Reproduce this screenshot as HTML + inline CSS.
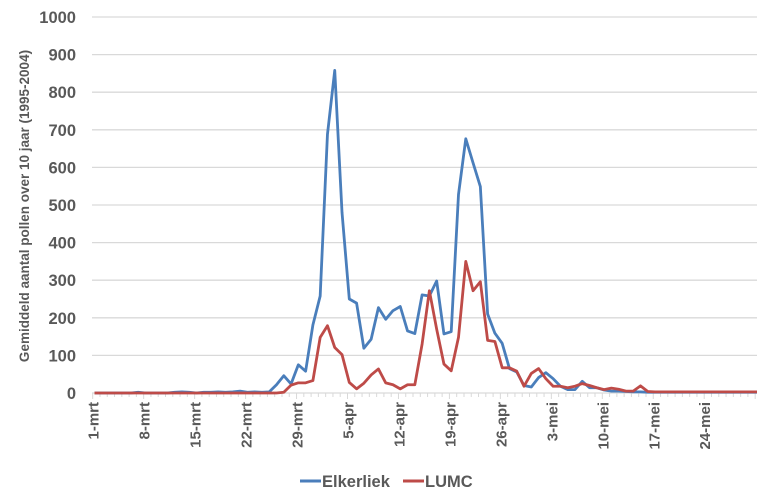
<!DOCTYPE html>
<html><head><meta charset="utf-8"><style>
body{margin:0;background:#fff;}
svg{display:block;font-family:"Liberation Sans",sans-serif;font-weight:bold;}
</style></head><body>
<svg id="chart" width="770" height="502" viewBox="0 0 770 502">
<g id="grid"></g>
<g id="yticks"></g>
<text transform="translate(29,206) rotate(-90)" text-anchor="middle" font-size="13.5" fill="#595959">Gemiddeld aantal pollen over 10 jaar (1995-2004)</text>
<g id="xaxis"></g>
<g id="series"></g>
<g>
<line x1="300" y1="481" x2="321" y2="481" stroke="#4a7ebb" stroke-width="3"/>
<text x="322" y="487" font-size="16.5" fill="#595959">Elkerliek</text>
<line x1="403" y1="481" x2="424" y2="481" stroke="#be4b48" stroke-width="3"/>
<text x="425" y="487" font-size="16.5" fill="#595959">LUMC</text>
</g>
</svg>
<script>
const yTicks=[0,100,200,300,400,500,600,700,800,900,1000];
const xLabels=["1-mrt","8-mrt","15-mrt","22-mrt","29-mrt","5-apr","12-apr","19-apr","26-apr","3-mei","10-mei","17-mei","24-mei"];
const elkerliek=[0,0,0,0,0,0,2,0,0,0,0,2,3,2,0,2,2,3,2,3,5,2,3,2,3,22,46,24,75,58,181,258,688,858,480,250,239,119,143,227,196,219,230,165,158,261,258,298,157,163,528,676,612,549,210,159,132,65,56,20,16,41,54,38,18,9,9,31,14,14,8,5,5,4,3,3,2,2,2,2,2,2,2,2,2,2,2,2,2,2,2,2];
const lumc=[0,0,0,0,0,0,0,0,0,0,0,0,0,0,0,0,0,0,0,0,0,0,0,0,0,0,2,21,27,27,33,148,179,121,102,28,11,26,48,64,27,22,11,22,22,130,272,170,77,59,148,350,272,296,140,137,67,67,58,18,52,65,38,18,18,14,18,25,20,14,9,13,10,5,5,19,4,3,3,3,3,3,3,3,3,3,3,3,3,3,3,3];
const NS='http://www.w3.org/2000/svg';
const X0=94.5,DX=7.28,Y0=393,KY=0.376,XL=92,XR=757;
const x=i=>X0+DX*i, y=v=>Y0-v*KY;
function mk(t,a,p){const e=document.createElementNS(NS,t);for(const k in a)e.setAttribute(k,a[k]);p.appendChild(e);return e;}
const grid=document.getElementById('grid'),yt=document.getElementById('yticks'),xa=document.getElementById('xaxis'),se=document.getElementById('series');
yTicks.forEach(v=>{
 if(v>0){const g=mk('line',{x1:XL,x2:XR,y1:y(v),y2:y(v),stroke:'#d9d9d9','stroke-width':1.3},grid);
 
 }
 const t=mk('text',{x:76,y:y(v)+6,'text-anchor':'end','font-size':16.5,fill:'#595959'},yt);
 t.textContent=v;
 
 
});
const ax=mk('line',{x1:XL,x2:XR,y1:Y0,y2:Y0,stroke:'#d9d9d9','stroke-width':1.3},xa);


for(let i=0;i<elkerliek.length;i++){
 const tk=mk('line',{x1:x(i)-1.8,x2:x(i)-1.8,y1:Y0,y2:Y0+(i%7==0?6:4),stroke:'#d9d9d9','stroke-width':1},xa);
 
 
}
xLabels.forEach((l,k)=>{
 const px=x(k*7)-1.8;
 const t=mk('text',{transform:`translate(${px+6},402) rotate(-90)`,'text-anchor':'end','font-size':15,fill:'#595959'},xa);
 t.textContent=l;
 
 
});
function line(d,c,n){
 const p=mk('polyline',{points:d.map((v,i)=>x(i)+','+y(v)).join(' '),fill:'none',stroke:c,'stroke-width':2.8,'stroke-linejoin':'round'},se);
 
 
}
line(elkerliek,'#4a7ebb','line-elkerliek');
line(lumc,'#be4b48','line-lumc');
</script>
</body></html>
